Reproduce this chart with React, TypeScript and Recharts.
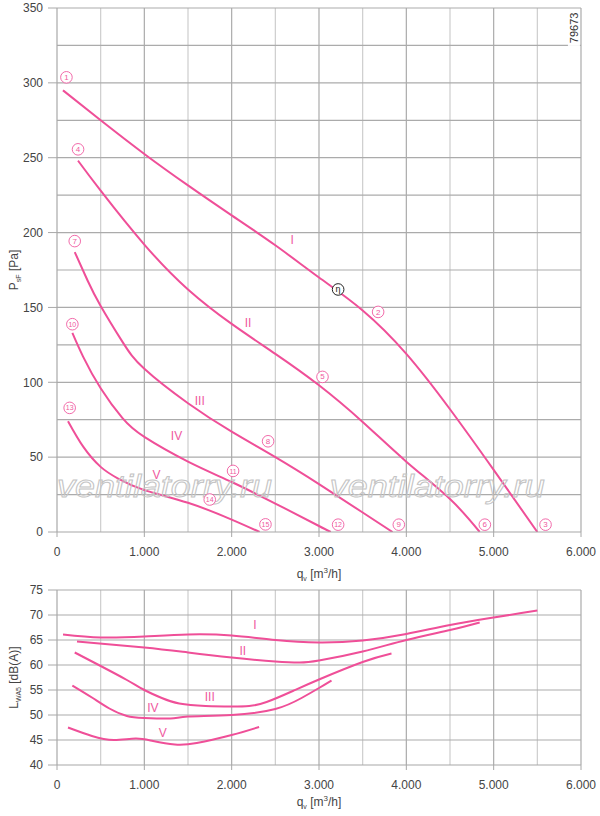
import React from 'react';
import { LineChart, Line, XAxis, YAxis, CartesianGrid, ReferenceDot, Label } from 'recharts';

const PINK = '#ef4f98';
const LABEL_PINK = '#ef5aa0';
const TEXT = '#444444';
const FONT = '"Liberation Sans", Arial, Helvetica, sans-serif';

// axis ticks / grid values
const qTicks = [0, 1000, 2000, 3000, 4000, 5000, 6000];
const qMajorGrid = [1000, 2000, 3000, 4000, 5000, 6000];
const qMinorGrid = [500, 1500, 2500, 3500, 4500, 5500];
const pTicks = [0, 50, 100, 150, 200, 250, 300, 350];
const pGrid = [25, 50, 75, 100, 125, 150, 175, 200, 225, 250, 275, 300, 325, 350];
const dbTicks = [40, 45, 50, 55, 60, 65, 70, 75];
const dbGrid = [45, 50, 55, 60, 65, 70, 75];

// pressure curves  (q in m3/h, p in Pa)
const pressI = [
  { q: 69, p: 295 }, { q: 500, p: 275 }, { q: 1000, p: 252.5 }, { q: 1500, p: 231.5 },
  { q: 2000, p: 211.5 }, { q: 2500, p: 191.5 }, { q: 3000, p: 170 }, { q: 3500, p: 148 },
  { q: 4000, p: 119 }, { q: 4500, p: 82 }, { q: 5000, p: 41.5 }, { q: 5500, p: 0 },
];
const pressII = [
  { q: 241, p: 248 }, { q: 500, p: 228 }, { q: 1000, p: 192 }, { q: 1500, p: 162 },
  { q: 2000, p: 139 }, { q: 2500, p: 119 }, { q: 3000, p: 98 }, { q: 3500, p: 73.5 },
  { q: 4000, p: 47 }, { q: 4500, p: 22 }, { q: 4840, p: 0 },
];
const pressIII = [
  { q: 203, p: 187 }, { q: 350, p: 168 }, { q: 500, p: 151 }, { q: 750, p: 127 },
  { q: 1000, p: 109 }, { q: 1500, p: 86 }, { q: 2000, p: 67 }, { q: 2500, p: 50 },
  { q: 3000, p: 32 }, { q: 3500, p: 13 }, { q: 3842, p: 0 },
];
const pressIV = [
  { q: 176, p: 133 }, { q: 300, p: 117 }, { q: 500, p: 96 }, { q: 750, p: 76 },
  { q: 1000, p: 63.5 }, { q: 1500, p: 47 }, { q: 2000, p: 33.4 }, { q: 2500, p: 19 },
  { q: 3000, p: 4 }, { q: 3135, p: 0 },
];
const pressV = [
  { q: 126, p: 74 }, { q: 300, p: 57 }, { q: 500, p: 43.5 }, { q: 700, p: 35.7 },
  { q: 1000, p: 28 }, { q: 1500, p: 19.5 }, { q: 2000, p: 8.3 }, { q: 2320, p: 0 },
];

// sound power curves (q in m3/h, L in dB(A))
const soundI = [
  { q: 69, L: 66.1 }, { q: 500, L: 65.5 }, { q: 1000, L: 65.7 }, { q: 1500, L: 66.1 },
  { q: 2000, L: 65.9 }, { q: 2500, L: 65.0 }, { q: 3000, L: 64.5 },
  { q: 3500, L: 64.9 }, { q: 4000, L: 66.2 }, { q: 4500, L: 68.0 }, { q: 5000, L: 69.5 },
  { q: 5500, L: 70.9 },
];
const soundII = [
  { q: 229, L: 64.7 }, { q: 1000, L: 63.5 }, { q: 1500, L: 62.5 }, { q: 2000, L: 61.5 },
  { q: 2500, L: 60.7 }, { q: 2780, L: 60.5 }, { q: 3000, L: 60.9 }, { q: 3500, L: 62.7 },
  { q: 4000, L: 65.0 }, { q: 4500, L: 67.0 }, { q: 4840, L: 68.5 },
];
const soundIII = [
  { q: 203, L: 62.5 }, { q: 500, L: 59.8 }, { q: 800, L: 57.0 }, { q: 1000, L: 55.0 },
  { q: 1200, L: 53.4 }, { q: 1400, L: 52.3 }, { q: 1700, L: 51.8 }, { q: 2000, L: 51.7 },
  { q: 2200, L: 51.8 }, { q: 2400, L: 52.6 }, { q: 2700, L: 54.8 }, { q: 3000, L: 57.1 },
  { q: 3500, L: 60.6 }, { q: 3830, L: 62.3 },
];
const soundIV = [
  { q: 176, L: 55.9 }, { q: 400, L: 53.5 }, { q: 600, L: 51.3 }, { q: 800, L: 49.8 },
  { q: 1000, L: 49.4 }, { q: 1300, L: 49.3 }, { q: 1500, L: 49.7 }, { q: 2000, L: 50.0 },
  { q: 2500, L: 51.2 }, { q: 2800, L: 53.4 }, { q: 3000, L: 55.4 }, { q: 3143, L: 56.9 },
];
const soundV = [
  { q: 126, L: 47.5 }, { q: 400, L: 45.8 }, { q: 650, L: 45.0 }, { q: 900, L: 45.3 },
  { q: 1100, L: 44.8 }, { q: 1350, L: 44.1 }, { q: 1600, L: 44.4 }, { q: 2000, L: 46.0 },
  { q: 2314, L: 47.6 },
];

// annotations (in data coordinates)
const circledLabels = [
  { n: '1', q: 108, p: 303.7 }, { n: '2', q: 3677, p: 147 }, { n: '3', q: 5594, p: 4.9 },
  { n: '4', q: 241, p: 255.6 }, { n: '5', q: 3040, p: 103.6 }, { n: '6', q: 4899, p: 4.9 },
  { n: '7', q: 203, p: 194.3 }, { n: '8', q: 2417, p: 60.6 }, { n: '9', q: 3914, p: 4.9 },
  { n: '10', q: 176, p: 138.8 }, { n: '11', q: 2016, p: 40.8 }, { n: '12', q: 3219, p: 4.9 },
  { n: '13', q: 145, p: 82.9 }, { n: '14', q: 1749, p: 21.7 }, { n: '15', q: 2387, p: 5.1 },
];
const etaLabel = { q: 3219, p: 162 };
const pressRoman = [
  { t: 'I', q: 2692, p: 195 }, { t: 'II', q: 2188, p: 139.7 }, { t: 'III', q: 1635, p: 87.6 },
  { t: 'IV', q: 1368, p: 64 }, { t: 'V', q: 1139, p: 38.4 },
];
const soundRoman = [
  { t: 'I', q: 2265, L: 68 }, { t: 'II', q: 2127, L: 62.8 }, { t: 'III', q: 1749, L: 53.6 },
  { t: 'IV', q: 1097, L: 51.4 }, { t: 'V', q: 1211, L: 46.4 },
];
const watermarks = [{ q: 0, p: 23.2 }, { q: 3124, p: 23.2 }];
const drawingNo = { text: '79673', q: 5919, p: 336.7 };

const fmtQ = (v: number) => (v === 0 ? '0' : `${v / 1000}.000`);

const tickStyle = { fill: TEXT, fontSize: 12, fontFamily: FONT };

function CircNum(props: any) {
  const { cx, cy, n } = props;
  if (cx == null || cy == null) return null;
  return (
    <g>
      <circle cx={cx} cy={cy} r={5.8} fill="#fff" stroke={LABEL_PINK} strokeWidth={0.9} />
      <text x={cx} y={cy + 2.6} textAnchor="middle" fontSize={n.length > 1 ? 7 : 8}
        fontFamily={FONT} fill={LABEL_PINK}>{n}</text>
    </g>
  );
}

function EtaMark(props: any) {
  const { cx, cy } = props;
  if (cx == null || cy == null) return null;
  return (
    <g>
      <circle cx={cx} cy={cy} r={5.8} fill="#fff" stroke="#222" strokeWidth={1} />
      <text x={cx} y={cy + 3} textAnchor="middle" fontSize={9} fontFamily={FONT} fill="#222">η</text>
    </g>
  );
}

function RomanText(props: any) {
  const { cx, cy, t } = props;
  if (cx == null || cy == null) return null;
  return (
    <text x={cx} y={cy + 4.2} textAnchor="middle" fontSize={12} fontFamily={FONT} fill={LABEL_PINK}>{t}</text>
  );
}

function Watermark(props: any) {
  const { cx, cy } = props;
  if (cx == null || cy == null) return null;
  return (
    <text x={cx} y={cy} fontSize={32} fontStyle="italic" fontFamily={FONT}
      fill="none" stroke="#c4c4c4" strokeWidth={1} textLength={215} lengthAdjust="spacingAndGlyphs">
      ventilatorry.ru
    </text>
  );
}

function DrawingNo(props: any) {
  const { cx, cy, text } = props;
  if (cx == null || cy == null) return null;
  return (
    <g>
      <rect x={cx - 6} y={cy - 18} width={12} height={36} fill="#fff" />
      <text x={cx} y={cy} transform={`rotate(-90 ${cx} ${cy})`} textAnchor="middle" dy={4}
        fontSize={11} fontFamily={FONT} fill="#333">{text}</text>
    </g>
  );
}

function XTitle(props: any) {
  const vb = props.viewBox || {};
  const x = (vb.x ?? 57) + (vb.width ?? 524) / 2;
  const y = (vb.y ?? 0) + props.off;
  return (
    <text x={x} y={y} textAnchor="middle" fontSize={12} fontFamily={FONT} fill={TEXT}>
      q<tspan fontSize={7} dy={3}>v</tspan>
      <tspan dy={-3}> [m</tspan>
      <tspan fontSize={8} dy={-5}>3</tspan>
      <tspan dy={5}>/h]</tspan>
    </text>
  );
}

function YTitle(props: any) {
  const vb = props.viewBox || {};
  const cx = 18;
  const cy = (vb.y ?? 0) + (vb.height ?? 0) / 2;
  return (
    <text x={cx} y={cy} transform={`rotate(-90 ${cx} ${cy})`} textAnchor="middle"
      fontSize={12} fontFamily={FONT} fill={TEXT}>
      {props.main}
      <tspan fontSize={7} dy={3}>{props.sub}</tspan>
      <tspan dy={-3}>{' ' + props.rest}</tspan>
    </text>
  );
}

const lineProps = {
  type: 'natural' as const,
  stroke: PINK,
  strokeWidth: 2,
  dot: false,
  activeDot: false,
  isAnimationActive: false,
};

export default function App() {
  return (
    <div style={{ position: 'absolute', left: 0, top: 0, width: 600, height: 816, overflow: 'hidden', background: '#fff' }}>
      <div style={{ position: 'absolute', left: 0, top: 0 }}>
        <LineChart width={600} height={585} margin={{ top: 8, right: 19, bottom: 0, left: 0 }}>
          <CartesianGrid stroke="#cdcdcd" strokeWidth={1.2} horizontal={false}
            verticalValues={qMinorGrid} />
          <CartesianGrid stroke="#ababab" strokeWidth={1.2}
            verticalValues={qMajorGrid} horizontalValues={pGrid} />
          <XAxis dataKey="q" type="number" domain={[0, 6000]} ticks={qTicks} tickFormatter={fmtQ}
            allowDataOverflow height={53} tick={tickStyle} tickSize={5} tickMargin={10}
            axisLine={{ stroke: '#a8a8a8', strokeWidth: 1.2 }} tickLine={{ stroke: '#a8a8a8' }}>
            <Label content={(p: any) => <XTitle {...p} off={46} />} />
          </XAxis>
          <YAxis type="number" domain={[0, 350]} ticks={pTicks} allowDataOverflow width={57}
            tick={tickStyle} tickSize={9} tickMargin={5}
            axisLine={{ stroke: '#a8a8a8', strokeWidth: 1.2 }} tickLine={{ stroke: '#a8a8a8' }}>
            <Label content={(p: any) => <YTitle {...p} main="P" sub="sF" rest="[Pa]" />} />
          </YAxis>
          {watermarks.map((w, i) => (
            <ReferenceDot key={'w' + i} x={w.q} y={w.p} shape={(pp: any) => <Watermark {...pp} />} />
          ))}
          <Line data={pressI} dataKey="p" {...lineProps} />
          <Line data={pressII} dataKey="p" {...lineProps} />
          <Line data={pressIII} dataKey="p" {...lineProps} />
          <Line data={pressIV} dataKey="p" {...lineProps} />
          <Line data={pressV} dataKey="p" {...lineProps} />
          {circledLabels.map((c) => (
            <ReferenceDot key={'c' + c.n} x={c.q} y={c.p} shape={(pp: any) => <CircNum {...pp} n={c.n} />} />
          ))}
          <ReferenceDot x={etaLabel.q} y={etaLabel.p} shape={(pp: any) => <EtaMark {...pp} />} />
          {pressRoman.map((r) => (
            <ReferenceDot key={'r' + r.t} x={r.q} y={r.p} shape={(pp: any) => <RomanText {...pp} t={r.t} />} />
          ))}
          <ReferenceDot x={drawingNo.q} y={drawingNo.p} shape={(pp: any) => <DrawingNo {...pp} text={drawingNo.text} />} />
        </LineChart>
      </div>
      <div style={{ position: 'absolute', left: 0, top: 580 }}>
        <LineChart width={600} height={236} margin={{ top: 10, right: 19, bottom: 0, left: 0 }}>
          <CartesianGrid stroke="#cdcdcd" strokeWidth={1.2} horizontal={false}
            verticalValues={qMinorGrid} />
          <CartesianGrid stroke="#ababab" strokeWidth={1.2}
            verticalValues={qMajorGrid} horizontalValues={dbGrid} />
          <XAxis dataKey="q" type="number" domain={[0, 6000]} ticks={qTicks} tickFormatter={fmtQ}
            allowDataOverflow height={51} tick={tickStyle} tickSize={5} tickMargin={10}
            axisLine={{ stroke: '#a8a8a8', strokeWidth: 1.2 }} tickLine={{ stroke: '#a8a8a8' }}>
            <Label content={(p: any) => <XTitle {...p} off={41} />} />
          </XAxis>
          <YAxis type="number" domain={[40, 75]} ticks={dbTicks} allowDataOverflow width={57}
            tick={tickStyle} tickSize={9} tickMargin={5}
            axisLine={{ stroke: '#a8a8a8', strokeWidth: 1.2 }} tickLine={{ stroke: '#a8a8a8' }}>
            <Label content={(p: any) => <YTitle {...p} main="L" sub="WA5" rest="[dB(A)]" />} />
          </YAxis>
          <Line data={soundI} dataKey="L" {...lineProps} />
          <Line data={soundII} dataKey="L" {...lineProps} />
          <Line data={soundIII} dataKey="L" {...lineProps} />
          <Line data={soundIV} dataKey="L" {...lineProps} />
          <Line data={soundV} dataKey="L" {...lineProps} />
          {soundRoman.map((r) => (
            <ReferenceDot key={'s' + r.t} x={r.q} y={r.L} shape={(pp: any) => <RomanText {...pp} t={r.t} />} />
          ))}
        </LineChart>
      </div>
    </div>
  );
}
